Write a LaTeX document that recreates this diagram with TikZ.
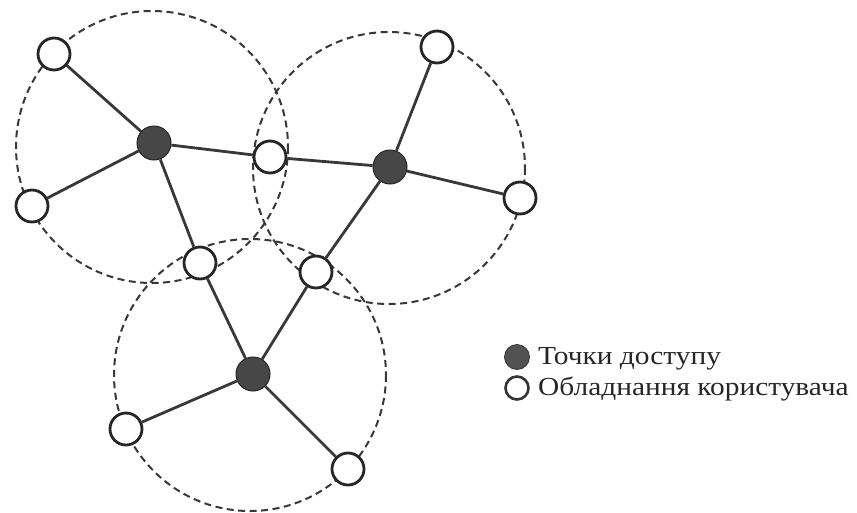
\documentclass[tikz,border=0pt]{standalone}
\usepackage{fontspec}
\setmainfont{Liberation Serif}
\newfontfamily\legendfont[FakeStretch=1.13]{Liberation Serif}
\begin{document}
\begin{tikzpicture}[x=1pt,y=-1pt,
  zone/.style={draw=black!78,line width=2pt,dash pattern=on 7pt off 4.5pt},
  link/.style={draw=black!78,line width=2.8pt},
  ap/.style={circle,draw=black!85,fill=black!72,line width=1pt,minimum size=34pt,inner sep=0pt},
  ue/.style={circle,draw=black!85,fill=white,line width=2.8pt,minimum size=32pt,inner sep=0pt},
  lap/.style={circle,draw=black!80,fill=black!68,line width=0.8pt,minimum size=25pt,inner sep=0pt},
  lue/.style={circle,draw=black!80,fill=white,line width=2.6pt,minimum size=23pt,inner sep=0pt},
  ltext/.style={anchor=base west,text=black!85,font=\legendfont\fontsize{26pt}{30pt}\selectfont,inner sep=0pt}]
\useasboundingbox (0,0) rectangle (857,512);
% coverage zones
\draw[zone] (152,147) circle (136);
\draw[zone] (389,168) circle (136);
\draw[zone] (250,375) circle (136);
% access points
\node[ap] (a1) at (154,143) {};
\node[ap] (a2) at (390,167) {};
\node[ap] (a3) at (253,374) {};
% user equipment
\node[ue] (u1) at (54,54) {};
\node[ue] (u2) at (32,206) {};
\node[ue] (u3) at (270,157) {};
\node[ue] (u4) at (437,47) {};
\node[ue] (u5) at (520,198) {};
\node[ue] (u6) at (200,263) {};
\node[ue] (u7) at (316,272) {};
\node[ue] (u8) at (126,429) {};
\node[ue] (u9) at (348,469) {};
% links
\foreach \a/\u in {a1/u1,a1/u2,a1/u3,a1/u6,a2/u4,a2/u3,a2/u5,a2/u7,a3/u6,a3/u7,a3/u8,a3/u9}
  \draw[link] (\a) -- (\u);
% legend
\node[lap] (lg1) at (517,357) {};
\node[ltext] (lt1) at (538,364) {Точки доступу};
\node[lue] (lg2) at (517,388) {};
\node[ltext] (lt2) at (538,395) {Обладнання користувача};
\end{tikzpicture}
\end{document}
